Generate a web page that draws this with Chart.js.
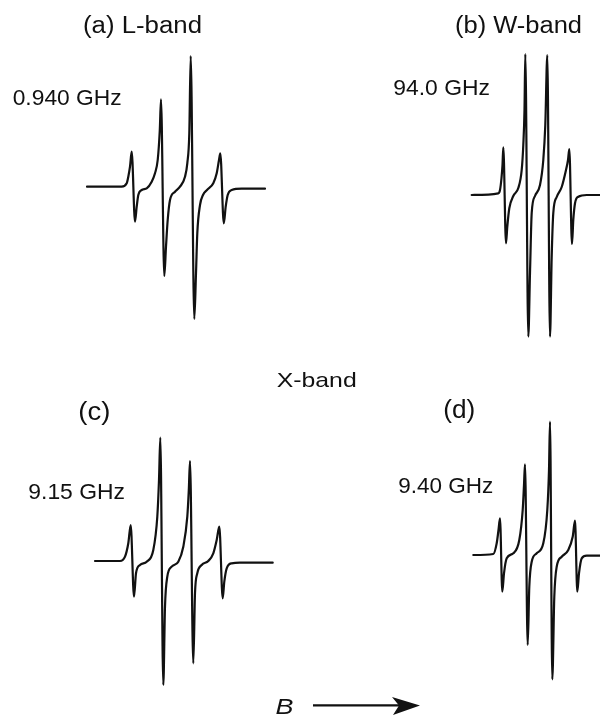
<!DOCTYPE html>
<html>
<head>
<meta charset="utf-8">
<script src="https://cdn.jsdelivr.net/npm/chart.js@4.4.1/dist/chart.umd.min.js"></script>
<style>
html,body{margin:0;padding:0;background:#fff;width:600px;height:716px;overflow:hidden}
#wrap{position:relative;width:600px;height:716px}
#c{position:absolute;left:0;top:0}
#ov{position:absolute;left:0;top:0;pointer-events:none}
#ov text{font-family:"Liberation Sans",Arial,Helvetica,sans-serif;fill:#111}
</style>
</head>
<body>
<div id="wrap">
<canvas id="c" width="600" height="716"></canvas>
<svg id="ov" width="600" height="716" viewBox="0 0 600 716">
  <text x="83" y="32.5" font-size="23" textLength="119" lengthAdjust="spacingAndGlyphs">(a) L-band</text>
  <text x="455" y="32.5" font-size="23" textLength="127" lengthAdjust="spacingAndGlyphs">(b) W-band</text>
  <text x="12.7" y="105" font-size="22" textLength="109" lengthAdjust="spacingAndGlyphs">0.940 GHz</text>
  <text x="393.3" y="95" font-size="22" textLength="96.7" lengthAdjust="spacingAndGlyphs">94.0 GHz</text>
  <text x="276.7" y="386.7" font-size="21" textLength="80" lengthAdjust="spacingAndGlyphs">X-band</text>
  <text x="78.3" y="420" font-size="25" textLength="32" lengthAdjust="spacingAndGlyphs">(c)</text>
  <text x="443.3" y="418.3" font-size="25" textLength="32" lengthAdjust="spacingAndGlyphs">(d)</text>
  <text x="28.3" y="499" font-size="22" textLength="96.7" lengthAdjust="spacingAndGlyphs">9.15 GHz</text>
  <text x="398.3" y="493.3" font-size="22" textLength="95" lengthAdjust="spacingAndGlyphs">9.40 GHz</text>
  <text x="275.5" y="713.5" font-size="22.5" font-style="italic" textLength="18" lengthAdjust="spacingAndGlyphs">B</text>
  <line x1="313" y1="705.3" x2="400" y2="705.3" stroke="#111" stroke-width="2.2"/>
  <polygon points="392,697 420,705.6 393,715 399,705.6" fill="#111"/>
</svg>
</div>
<script>
// ---- Data: field offset (arbitrary units) and derivative signal (arbitrary units) ----
// (a) L-band, 0.940 GHz
const fieldA  = [-90.5,-55.8,-50.8,-49.2,-47.5,-45.8,-42.5,-40.8,-39.2,-35.8,-30.8,-25.8,-22.5,-19.8,-17.7,-16.5,-13.2,-11.5,-9.8,-7.5,-2.5,2.5,7.5,9.8,11.8,13.2,16.8,18.5,19.8,22.5,25.5,29.5,35.8,39.2,41.5,42.8,46.3,48.2,50.2,54.2,64.2,87.5];
const signalA = [0.8,0.8,4.2,10.8,20.8,35.8,-34.2,-19.2,-7.5,-2.5,-0.8,5.8,14.2,27.5,57.5,88.2,-88.5,-59.2,-32.5,-12.5,-4.2,0.8,10.8,24.2,54.2,131.5,-131.5,-85.8,-45.8,-17.5,-7.5,-2.5,4.2,14.2,27.5,34.2,-35.8,-19.2,-7.5,-2.5,-1.2,-1.2];
// (b) W-band, 94.0 GHz
const fieldB  = [-66,-39.4,-37.7,-36.2,-35.2,-34.4,-31.7,-30.4,-28.4,-24.4,-19.4,-16,-14.4,-13.2,-12.4,-9.4,-7.7,-6,-2.7,2.3,5.6,7.6,9.6,12.3,14,15.6,19,24,28.3,30.3,31.6,34.3,35.6,37.3,40.6,49,64];
const signalB = [0,1.7,5,17,30,47.7,-48.3,-31.7,-13.3,-1,7,25,50,85,141,-141.7,-78,-18,-1,10,35,70,140,-141.7,-61.7,-18,-2,8,25,35,46,-49,-25,-8.3,-1.7,0,0];
// (c) X-band, 9.15 GHz
const fieldC  = [-81.7,-56.7,-51.7,-48.4,-46,-42.7,-40.7,-36.7,-30,-23.4,-19.4,-17.7,-16.4,-13.4,-11.7,-9.4,-5,1.6,6.6,10.6,12.1,13.3,16.6,18.3,20.6,25,31.6,36.6,40,42.6,46,47.6,50,55,63.3,96];
const signalC = [0.5,0.5,4.8,18.2,36.5,-35.2,-11.8,-3.5,-0.2,11.5,44.8,81.5,123.8,-123.5,-45.2,-15.2,-5.2,-0.2,14.8,44.8,71.5,100.5,-101.8,-31.8,-11.8,-3.5,0.5,8.2,21.5,34.8,-36.8,-20.2,-6.8,-1.8,-1.2,-1.2];
// (d) X-band, 9.40 GHz
const fieldD  = [-65.4,-45.4,-42,-40.2,-38.7,-36.4,-34.7,-32,-25.4,-19.4,-16,-14.7,-13.7,-11,-9.4,-7,-2,4.6,8.6,10.3,11.3,13.6,15.6,18,23,29.6,34,36.3,38.6,40.3,43,48,64];
const signalD = [0.3,1.3,12,25.3,37,-36.4,-18,-3,2,15.3,45.3,70.3,91,-89.7,-31.4,-6.4,2,12,45.3,85.3,133.6,-124,-41.4,-11.4,-1.4,5.3,18.6,34.6,-36.4,-18,-3,-0.4,-0.4];

// ---- Layout: where each panel's zero field / zero signal sits on the page (pixels) ----
const W = 600, H = 716;
const panelLayout = {
  a: {cx: 177.5, by: 187.5},
  b: {cx: 537.7, by: 195.0},
  c: {cx: 176.7, by: 561.5},
  d: {cx: 538.7, by: 555.3}
};

function pts(xs, ys){ return xs.map((x,i)=>({x:x, y:ys[i]})); }
function ds(key, xs, ys){
  return {
    label: key, data: pts(xs, ys), xAxisID: 'x'+key, yAxisID: 'y'+key,
    borderColor: '#111', borderWidth: 2.2, pointRadius: 0,
    fill: false, cubicInterpolationMode: 'monotone', borderJoinStyle: 'round', borderCapStyle: 'round'
  };
}
const scales = {};
for (const k of Object.keys(panelLayout)) {
  const p = panelLayout[k];
  scales['x'+k] = {type:'linear', display:false, min: -p.cx, max: W - p.cx};
  scales['y'+k] = {type:'linear', display:false, min: p.by - H, max: p.by};
}

new Chart(document.getElementById('c'), {
  type: 'line',
  data: { datasets: [ ds('a', fieldA, signalA), ds('b', fieldB, signalB), ds('c', fieldC, signalC), ds('d', fieldD, signalD) ] },
  options: {
    responsive: false, animation: false, devicePixelRatio: 1, events: [],
    layout: {padding: 0},
    plugins: {legend:{display:false}, title:{display:false}, tooltip:{enabled:false}},
    scales: scales
  }
});
</script>
</body>
</html>
